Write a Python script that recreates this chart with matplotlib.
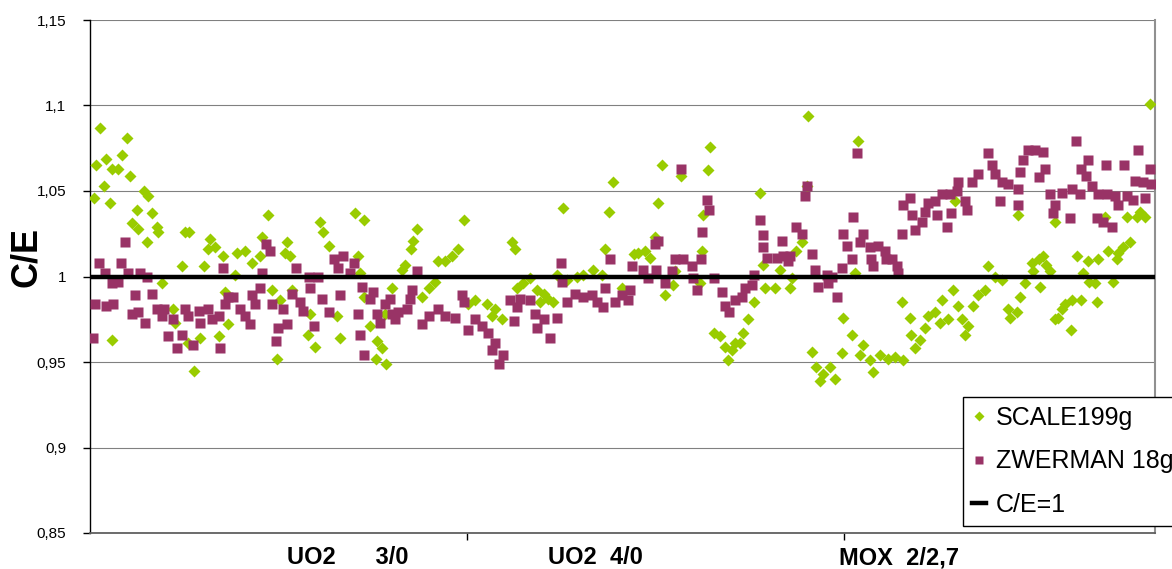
import numpy as np
import matplotlib.pyplot as plt

plt.rcParams['font.family'] = ['Liberation Sans', 'DejaVu Sans']

# case number (position along the x category axis) and C/E value
scale_case = [
    2.7, 9.7, 8.4, 4.2, 1.6, 5.8, 7.5, 10.6, 3.8, 1.1, 5.3, 14.2, 15.5, 12.4, 16.4, 11.1,
    12.8, 17.7, 18.1, 15.0, 25.2, 26.3, 31.9, 31.4, 33.2, 35.4, 24.3, 30.3, 19.2, 35.8, 22.1,
    22.6, 36.7, 5.9, 29.2, 26.1, 34.1, 27.7,
    47.3, 60.9, 61.9, 70.3, 72.6, 63.3, 52.2, 51.8, 45.6, 45.1, 38.9, 41.1, 42.9, 53.1, 38.5,
    48.2, 50.4, 53.6, 58.4, 65.5, 57.7, 59.7, 66.4, 49.5, 71.2, 71.7, 72.6,
    99.1, 86.7, 85.8, 85.2, 97.7, 96.0, 94.2, 92.4, 83.6, 82.7, 91.5, 89.8, 80.0, 88.0,
    102.2, 105.3, 107.5, 106.6, 78.3, 74.3, 76.1, 77.4, 75.8, 78.6, 100.4,
    138.8, 125.4, 137.8, 111.9, 112.7, 136.6, 144.2, 123.8, 116.7, 114.9, 113.2, 129.1, 130.9,
    133.5, 135.7, 126.5, 118.5, 120.3, 121.6, 122.9, 109.2, 141.1, 119.4,
    164.5, 151.6, 156.9, 164.0, 177.7, 150.6, 162.7, 149.9, 162.4, 145.4, 147.2, 148.5, 155.2,
    154.7, 152.5, 161.8, 178.6, 179.1, 176.0, 174.6, 173.3, 172.4, 165.4, 167.1, 168.4, 170.2,
    169.3, 171.1,
    190.5, 203.8, 190.1, 188.8, 187.4, 183.0, 186.1, 202.9, 181.7, 185.7, 215.3, 199.8, 202.0,
    199.4, 191.4, 192.7, 194.5, 196.3, 197.6, 193.6, 205.1, 204.2, 206.9, 207.8, 209.6, 211.8,
    213.5, 215.6,
    229.4, 246.2, 238.3, 240.0, 241.8, 249.8, 251.6, 248.0, 251.9, 246.7, 237.4, 235.6, 234.3,
    229.0, 230.3, 225.9, 224.1, 222.3, 225.4, 227.7, 231.2, 233.0, 232.1, 217.5, 221.5, 217.9,
    220.1, 218.8, 243.6, 245.8, 244.0,
    281.3, 255.9, 275.0, 277.6, 279.8, 278.5, 269.2, 275.8, 274.1, 272.8, 270.1, 272.3, 267.4,
    264.8, 261.7, 252.8, 253.7, 254.6, 250.2, 263.5, 265.1, 266.6, 271.4, 260.4, 263.0, 267.0,
    258.6, 257.7, 256.8, 255.9, 260.1,
]
scale_ce = [
    1.087, 1.081, 1.071, 1.069, 1.065, 1.063, 1.063, 1.059, 1.053, 1.046, 1.043, 1.050, 1.047, 1.039, 1.037, 1.031,
    1.028, 1.029, 1.026, 1.020, 1.026, 1.026, 1.022, 1.016, 1.017, 1.012, 1.006, 1.006, 0.996, 0.991, 0.981,
    0.973, 0.972, 0.963, 0.964, 0.961, 0.965, 0.945,
    1.036, 1.032, 1.026, 1.037, 1.033, 1.018, 1.020, 1.014, 1.023, 1.012, 1.014, 1.015, 1.008, 1.012, 1.001,
    0.992, 0.986, 0.992, 0.978, 0.977, 0.966, 0.959, 0.964, 0.952, 1.012, 1.002, 0.988,
    1.033, 1.028, 1.021, 1.016, 1.016, 1.012, 1.009, 1.009, 1.007, 1.004, 0.997, 0.993, 0.993, 0.988,
    0.986, 0.984, 0.981, 0.977, 0.978, 0.971, 0.962, 0.958, 0.952, 0.949, 0.984,
    1.055, 1.040, 1.038, 1.020, 1.016, 1.016, 1.013, 1.001, 0.999, 0.996, 0.993, 1.000, 1.001,
    1.004, 1.001, 0.998, 0.992, 0.990, 0.987, 0.985, 0.975, 0.993, 0.985,
    1.076, 1.065, 1.059, 1.062, 1.049, 1.043, 1.036, 1.023, 1.015, 1.014, 1.015, 1.011, 1.003,
    0.995, 0.989, 0.996, 1.007, 0.993, 0.985, 0.975, 0.967, 0.961, 0.967, 0.965, 0.959, 0.957,
    0.951, 0.961,
    1.094, 1.079, 1.053, 1.020, 1.015, 1.004, 0.999, 1.002, 0.993, 0.993, 0.985, 0.976, 0.966,
    0.955, 0.956, 0.947, 0.943, 0.947, 0.940, 0.939, 0.960, 0.954, 0.951, 0.944, 0.954, 0.952,
    0.953, 0.951,
    1.044, 1.036, 1.006, 1.000, 0.998, 1.008, 1.010, 0.996, 0.994, 0.988, 0.992, 0.989, 0.983,
    0.992, 0.983, 0.986, 0.979, 0.977, 0.973, 0.975, 0.975, 0.971, 0.966, 0.976, 0.970, 0.966,
    0.963, 0.958, 0.981, 0.979, 0.976,
    1.101, 1.032, 1.035, 1.035, 1.035, 1.038, 1.035, 1.020, 1.017, 1.014, 1.015, 1.010, 1.010,
    1.009, 1.012, 1.012, 1.007, 1.003, 1.003, 1.002, 0.997, 0.996, 0.997, 0.986, 0.986, 0.985,
    0.984, 0.981, 0.976, 0.975, 0.969,
]

zwer_case = [
    9.3, 2.4, 8.2, 4.0, 10.2, 13.3, 15.0, 5.8, 7.5, 11.9, 16.4, 1.3, 4.3, 6.1, 11.1, 12.8,
    14.6, 17.7, 19.5, 19.0, 22.1, 25.2, 26.1, 28.8, 29.2, 31.4, 32.3, 34.1, 35.8, 36.7, 35.4,
    20.8, 24.3, 23.0, 27.4, 34.4, 0.9,
    46.7, 47.8, 45.6, 54.7, 58.0, 60.6, 64.6, 67.2, 69.9, 65.9, 69.0, 45.1, 42.9, 38.0, 39.8,
    41.1, 42.5, 43.8, 48.2, 51.3, 53.5, 55.7, 56.6, 58.3, 61.5, 63.3, 66.4, 72.1, 71.2, 71.7,
    72.6, 52.2, 50.0, 49.4, 59.5,
    86.7, 75.2, 74.3, 79.6, 78.3, 85.3, 84.9, 76.1, 76.9, 80.0, 81.8, 84.0, 80.9, 88.0, 89.8,
    92.4, 94.2, 96.8, 98.6, 99.1, 100.4, 102.2, 103.9, 105.7, 106.6, 107.5, 108.4,
    124.9, 138.0, 143.7, 125.1, 136.6, 111.4, 114.1, 116.7, 113.2, 126.5, 128.7, 130.9, 133.1,
    134.4, 136.2, 139.3, 141.1, 143.3, 142.8, 118.0, 120.3, 123.8, 118.5, 122.0, 112.5, 109.6,
    156.8, 163.6, 164.2, 177.6, 162.4, 178.6, 178.4, 179.5, 150.7, 149.9, 146.8, 150.2, 155.2,
    157.4, 159.6, 162.1, 154.3, 148.1, 152.5, 160.0, 160.9, 165.4, 167.6, 168.4, 169.5, 171.1,
    172.9, 173.8, 175.5, 176.0,
    203.5, 190.3, 189.6, 202.5, 215.6, 187.4, 188.8, 199.8, 205.1, 215.3, 183.5, 204.2, 200.7,
    206.9, 209.1, 210.9, 182.1, 183.9, 185.2, 185.7, 191.4, 202.0, 207.2, 207.8, 211.2, 212.7,
    214.0, 199.4, 192.3, 195.4, 196.7, 193.2, 195.7, 198.2, 214.4,
    238.1, 248.9, 250.7, 247.6, 239.2, 246.7, 235.6, 233.9, 240.0, 241.8, 243.6, 246.2, 251.6,
    230.3, 229.9, 232.1, 232.5, 228.1, 225.9, 224.1, 222.3, 217.5, 218.0, 221.5, 220.6, 218.8,
    224.6, 228.4, 227.2, 241.4, 246.1,
    261.5, 278.1, 252.8, 253.3, 264.8, 263.0, 264.3, 269.5, 274.3, 281.2, 277.2, 279.4, 281.4,
    254.6, 257.7, 260.4, 262.6, 265.7, 267.4, 269.7, 271.9, 272.8, 275.0, 276.7, 279.8, 255.9,
    255.5, 259.9, 267.0, 268.8, 271.0,
]
zwer_ce = [
    1.020, 1.008, 1.008, 1.002, 1.002, 1.002, 1.000, 0.996, 0.997, 0.989, 0.990, 0.984, 0.983, 0.984, 0.978, 0.979,
    0.973, 0.981, 0.981, 0.977, 0.975, 0.981, 0.977, 0.980, 0.973, 0.981, 0.975, 0.977, 0.984, 0.988, 1.005,
    0.965, 0.966, 0.958, 0.960, 0.958, 0.964,
    1.019, 1.015, 1.002, 1.005, 1.000, 1.000, 1.010, 1.012, 1.008, 1.005, 1.002, 0.993, 0.989, 0.988, 0.981,
    0.977, 0.972, 0.984, 0.984, 0.981, 0.990, 0.985, 0.980, 0.993, 0.987, 0.979, 0.989, 0.994, 0.978, 0.966,
    0.954, 0.972, 0.970, 0.962, 0.971,
    1.003, 0.991, 0.987, 0.987, 0.984, 0.992, 0.987, 0.978, 0.973, 0.978, 0.979, 0.981, 0.975, 0.972, 0.977,
    0.981, 0.977, 0.976, 0.989, 0.985, 0.969, 0.975, 0.971, 0.967, 0.957, 0.961, 0.949,
    1.008, 1.010, 1.006, 0.997, 0.993, 0.986, 0.987, 0.986, 0.982, 0.985, 0.990, 0.988, 0.989,
    0.985, 0.982, 0.985, 0.989, 0.992, 0.986, 0.978, 0.975, 0.976, 0.970, 0.964, 0.974, 0.954,
    1.063, 1.045, 1.039, 1.033, 1.026, 1.024, 1.017, 1.011, 1.021, 1.019, 1.004, 1.004, 1.010,
    1.010, 1.006, 1.010, 1.003, 0.999, 0.996, 0.999, 0.992, 0.999, 0.991, 0.983, 0.979, 0.986,
    0.988, 0.993, 0.995, 1.001,
    1.072, 1.053, 1.047, 1.035, 1.042, 1.029, 1.025, 1.025, 1.025, 1.025, 1.021, 1.020, 1.018,
    1.017, 1.018, 1.015, 1.011, 1.012, 1.009, 1.012, 1.013, 1.010, 1.010, 1.006, 1.010, 1.010,
    1.006, 1.005, 1.004, 1.001, 1.000, 0.994, 0.996, 0.988, 1.002,
    1.072, 1.074, 1.074, 1.068, 1.065, 1.061, 1.060, 1.055, 1.060, 1.055, 1.054, 1.051, 1.058,
    1.055, 1.050, 1.044, 1.039, 1.048, 1.048, 1.044, 1.043, 1.046, 1.036, 1.038, 1.032, 1.027,
    1.036, 1.037, 1.029, 1.044, 1.042,
    1.079, 1.074, 1.073, 1.063, 1.068, 1.063, 1.059, 1.065, 1.065, 1.063, 1.056, 1.055, 1.054,
    1.048, 1.049, 1.051, 1.048, 1.053, 1.048, 1.048, 1.047, 1.042, 1.047, 1.045, 1.046, 1.042,
    1.037, 1.034, 1.034, 1.032, 1.029,
]

yticks = [0.85, 0.9, 0.95, 1.0, 1.05, 1.1, 1.15]
ytick_labels = ['0,85', '0,9', '0,95', '1', '1,05', '1,1', '1,15']
groups = ['UO2      3/0', 'UO2  4/0', 'MOX  2/2,7']
group_xfrac = [0.242, 0.475, 0.760]

green = '#99CC00'
purple = '#993366'

fig = plt.figure(figsize=(11.72, 5.69), dpi=100)
ax = fig.add_axes([90 / 1172, 36 / 569, 1065 / 1172, 513 / 569])

ax.plot(scale_case, scale_ce, 'D', color=green, ms=6.6, mec='none', label='SCALE199g', zorder=3)
ax.plot(zwer_case, zwer_ce, 's', color=purple, ms=7.8, mec='none', label='ZWERMAN 18g', zorder=4)
ax.axhline(1.0, color='black', lw=3.2, label='C/E=1', zorder=5)

ax.set_xlim(0, 282.5)
ax.set_ylim(0.85, 1.15)
ax.set_yticks(yticks)
ax.set_yticklabels(ytick_labels, fontsize=11)
ax.set_xticks([100, 200])
ax.set_xticklabels([])
ax.tick_params(axis='both', direction='out', length=5, width=1, color='black')
ax.tick_params(axis='y', pad=12)
ax.grid(axis='y', color='#808080', lw=0.8, zorder=1)
ax.set_axisbelow(True)

ax.spines['top'].set_visible(False)
ax.spines['left'].set_color('black')
ax.spines['left'].set_linewidth(1.0)
ax.spines['bottom'].set_color('#606060')
ax.spines['bottom'].set_linewidth(1.3)
ax.spines['right'].set_color('#909090')
ax.spines['right'].set_linewidth(1.5)

for name, xf in zip(groups, group_xfrac):
    fig.text(90 / 1172 + xf * 1065 / 1172, 5 / 569, name, ha='center', va='baseline',
             fontsize=17, fontweight='bold')

fig.text(26 / 1172, 1 - 257 / 569, 'C/E', rotation=90, ha='center', va='center',
         fontsize=26, fontweight='bold')

leg = ax.legend(loc='upper left', bbox_to_anchor=(963 / 1172, 1 - 397 / 569),
                bbox_transform=fig.transFigure, fontsize=18, frameon=True, fancybox=False,
                framealpha=1, edgecolor='black', borderpad=0.35, borderaxespad=0,
                labelspacing=0.78, handlelength=0.55, handletextpad=0.4, markerscale=0.75)
leg.get_frame().set_linewidth(1.0)
leg.set_zorder(10)

fig.savefig('out.png', dpi=100)
